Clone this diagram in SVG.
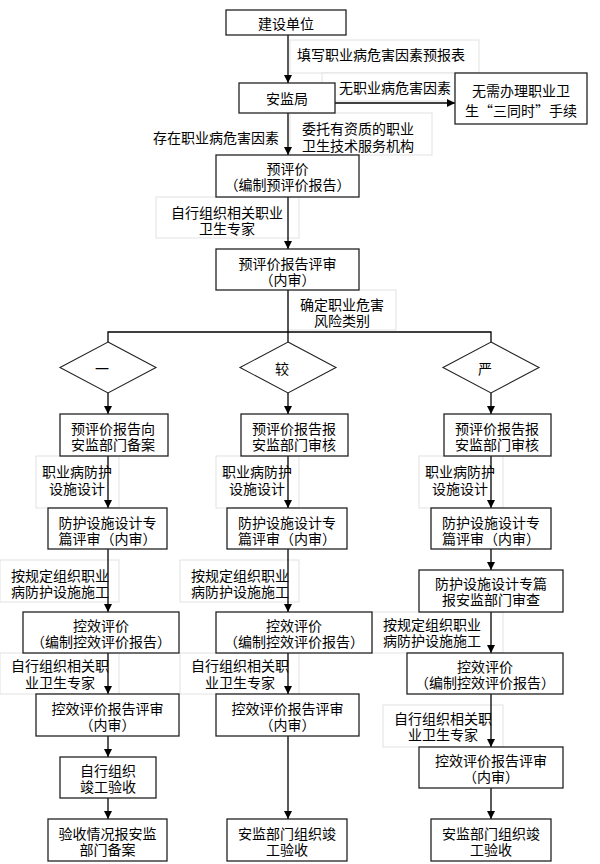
<svg xmlns="http://www.w3.org/2000/svg" width="600" height="864" viewBox="0 0 600 864">
<defs>
<marker id="ah" markerWidth="8" markerHeight="8" refX="8" refY="4" orient="auto" markerUnits="userSpaceOnUse">
<path d="M0,0 L8,4 L0,8 z" fill="#000"/>
</marker>
<style>
text{font-family:"Noto Sans CJK SC","Noto Sans CJK JP",sans-serif;font-size:14px;fill:#000;text-anchor:middle;dominant-baseline:central}
.box{fill:#fff;stroke:#222;stroke-width:1.3}
.lf{fill:#fff;stroke:#e2e2e2;stroke-width:1}
.c{fill:none;stroke:#000;stroke-width:1.3}
.ca{fill:none;stroke:#000;stroke-width:1.3;marker-end:url(#ah)}
.dm{fill:#fff;stroke:#222;stroke-width:1.1}
</style>
</defs>
<rect width="600" height="864" fill="#fff"/>

<g id="label-frames">
<rect class="lf" x="290" y="40" width="189" height="33"/>
<rect class="lf" x="322" y="73" width="133" height="28"/>
<rect class="lf" x="290" y="113" width="142" height="42"/>
<rect class="lf" x="156" y="197" width="143" height="41"/>
<rect class="lf" x="288" y="290" width="108" height="40"/>
<rect class="lf" x="36" y="456" width="83" height="52"/>
<rect class="lf" x="216" y="456" width="83" height="52"/>
<rect class="lf" x="419" y="456" width="84" height="52"/>
<rect class="lf" x="0" y="560" width="119" height="42"/>
<rect class="lf" x="180" y="560" width="119" height="42"/>
<rect class="lf" x="372" y="612" width="131" height="41"/>
<rect class="lf" x="0" y="653" width="119" height="41"/>
<rect class="lf" x="180" y="653" width="119" height="41"/>
<rect class="lf" x="383" y="705" width="120" height="42"/>
</g>

<g id="connectors">
<line class="ca" x1="288" y1="35" x2="288" y2="83"/>
<line class="ca" x1="335" y1="103" x2="455" y2="103"/>
<line class="ca" x1="288" y1="113" x2="288" y2="155"/>
<line class="ca" x1="288" y1="197" x2="288" y2="249"/>
<line class="c" x1="288" y1="290" x2="288" y2="342"/>
<polyline class="c" points="108,342 108,332 491,332 491,342"/>
<line class="ca" x1="108" y1="393" x2="108" y2="414"/>
<line class="ca" x1="288" y1="393" x2="288" y2="414"/>
<line class="ca" x1="491" y1="393" x2="491" y2="414"/>
<line class="ca" x1="108" y1="456" x2="108" y2="508"/>
<line class="ca" x1="288" y1="456" x2="288" y2="508"/>
<line class="ca" x1="491" y1="456" x2="491" y2="508"/>
<line class="ca" x1="108" y1="549" x2="108" y2="612"/>
<line class="ca" x1="288" y1="549" x2="288" y2="612"/>
<line class="ca" x1="491" y1="549" x2="491" y2="570"/>
<line class="ca" x1="491" y1="612" x2="491" y2="653"/>
<line class="ca" x1="108" y1="653" x2="108" y2="694"/>
<line class="ca" x1="288" y1="653" x2="288" y2="694"/>
<line class="ca" x1="491" y1="694" x2="491" y2="747"/>
<line class="ca" x1="108" y1="736" x2="108" y2="757"/>
<line class="ca" x1="108" y1="798" x2="108" y2="819"/>
<line class="ca" x1="288" y1="736" x2="288" y2="819"/>
<line class="ca" x1="491" y1="788" x2="491" y2="819"/>
</g>

<g id="labels">
<text x="381" y="54">填写职业病危害因素预报表</text>
<text x="395" y="87">无职业病危害因素</text>
<text x="216" y="137">存在职业病危害因素</text>
<text x="358" y="128">委托有资质的职业</text>
<text x="358" y="145">卫生技术服务机构</text>
<text x="227" y="212">自行组织相关职业</text>
<text x="227" y="228">卫生专家</text>
<text x="342" y="304">确定职业危害</text>
<text x="342" y="320">风险类别</text>
<text x="77" y="471">职业病防护</text>
<text x="77" y="488">设施设计</text>
<text x="257" y="471">职业病防护</text>
<text x="257" y="488">设施设计</text>
<text x="460" y="471">职业病防护</text>
<text x="460" y="488">设施设计</text>
<text x="60" y="575">按规定组织职业</text>
<text x="60" y="591">病防护设施施工</text>
<text x="240" y="575">按规定组织职业</text>
<text x="240" y="591">病防护设施施工</text>
<text x="432" y="624">按规定组织职业</text>
<text x="432" y="640">病防护设施施工</text>
<text x="60" y="665">自行组织相关职</text>
<text x="60" y="682">业卫生专家</text>
<text x="240" y="665">自行组织相关职</text>
<text x="240" y="682">业卫生专家</text>
<text x="443" y="718">自行组织相关职</text>
<text x="443" y="734">业卫生专家</text>
</g>

<g id="n-jianshe"><rect class="box" x="226" y="10" width="120" height="25"/><text x="286" y="23">建设单位</text></g>
<g id="n-anjian"><rect class="box" x="239" y="83" width="96" height="30"/><text x="287" y="98">安监局</text></g>
<g id="n-wuxu"><rect class="box" x="455" y="73" width="132" height="51"/><text x="521" y="90">无需办理职业卫</text><text x="521" y="110">生“三同时”手续</text></g>
<g id="n-yupingjia"><rect class="box" x="216" y="155" width="143" height="42"/><text x="287.5" y="168">预评价</text><text x="287.5" y="184">（编制预评价报告）</text></g>
<g id="n-yuping-review"><rect class="box" x="216" y="249" width="143" height="41"/><text x="287.5" y="263">预评价报告评审</text><text x="287.5" y="279">（内审）</text></g>

<g id="d-yiban"><polygon class="dm" points="108,342 156,367.5 108,393 60,367.5"/><text x="102" y="368">一</text></g>
<g id="d-jiao"><polygon class="dm" points="288,342 336,367.5 288,393 240,367.5"/><text x="282" y="368">较</text></g>
<g id="d-yan"><polygon class="dm" points="491,342 539,367.5 491,393 443,367.5"/><text x="485" y="368">严</text></g>

<g id="n-l1"><rect class="box" x="60" y="414" width="108" height="42"/><text x="113" y="428">预评价报告向</text><text x="113" y="444">安监部门备案</text></g>
<g id="n-m1"><rect class="box" x="241" y="414" width="107" height="42"/><text x="294" y="428">预评价报告报</text><text x="294" y="444">安监部门审核</text></g>
<g id="n-r1"><rect class="box" x="444" y="414" width="107" height="42"/><text x="497" y="428">预评价报告报</text><text x="497" y="444">安监部门审核</text></g>

<g id="n-l2"><rect class="box" x="48" y="508" width="119" height="41"/><text x="107.5" y="522">防护设施设计专</text><text x="107.5" y="538">篇评审（内审）</text></g>
<g id="n-m2"><rect class="box" x="227" y="508" width="120" height="41"/><text x="287" y="522">防护设施设计专</text><text x="287" y="538">篇评审（内审）</text></g>
<g id="n-r2"><rect class="box" x="431" y="508" width="120" height="41"/><text x="491" y="522">防护设施设计专</text><text x="491" y="538">篇评审（内审）</text></g>

<g id="n-r3"><rect class="box" x="419" y="570" width="144" height="42"/><text x="491" y="583">防护设施设计专篇</text><text x="491" y="599">报安监部门审查</text></g>

<g id="n-l4"><rect class="box" x="23" y="612" width="156" height="41"/><text x="101" y="625">控效评价</text><text x="101" y="641">（编制控效评价报告）</text></g>
<g id="n-m4"><rect class="box" x="216" y="612" width="156" height="41"/><text x="294" y="625">控效评价</text><text x="294" y="641">（编制控效评价报告）</text></g>
<g id="n-r4"><rect class="box" x="407" y="653" width="156" height="41"/><text x="485" y="666">控效评价</text><text x="485" y="682">（编制控效评价报告）</text></g>

<g id="n-l5"><rect class="box" x="36" y="694" width="143" height="42"/><text x="107.5" y="708">控效评价报告评审</text><text x="107.5" y="724">（内审）</text></g>
<g id="n-m5"><rect class="box" x="216" y="694" width="143" height="42"/><text x="287.5" y="708">控效评价报告评审</text><text x="287.5" y="724">（内审）</text></g>
<g id="n-r5"><rect class="box" x="419" y="747" width="144" height="41"/><text x="491" y="760">控效评价报告评审</text><text x="491" y="776">（内审）</text></g>

<g id="n-l6"><rect class="box" x="60" y="757" width="96" height="41"/><text x="108" y="770">自行组织</text><text x="108" y="786">竣工验收</text></g>

<g id="n-l7"><rect class="box" x="48" y="819" width="119" height="42"/><text x="107.5" y="833">验收情况报安监</text><text x="107.5" y="849">部门备案</text></g>
<g id="n-m7"><rect class="box" x="227" y="819" width="120" height="42"/><text x="287" y="833">安监部门组织竣</text><text x="287" y="849">工验收</text></g>
<g id="n-r7"><rect class="box" x="431" y="819" width="120" height="42"/><text x="491" y="833">安监部门组织竣</text><text x="491" y="849">工验收</text></g>
</svg>
